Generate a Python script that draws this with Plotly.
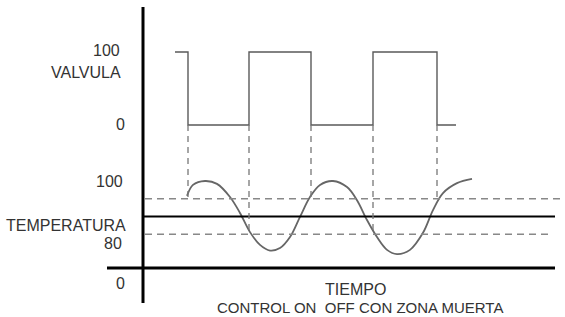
import plotly.graph_objects as go

# ---------------- data ----------------
# time (arbitrary units) and valve opening (%)
time_valve = [32, 45, 45, 106, 106, 168, 168, 230, 230, 294, 294, 313]
valve = [100, 100, 0, 0, 100, 100, 0, 0, 100, 100, 0, 0]

# temperature response
time_temp = [44, 50, 62, 74, 87, 97, 107, 117, 127, 137, 147, 157, 167, 177,
             190, 204, 214, 224, 234, 244, 254, 267, 280, 290, 300, 314, 329]
temp = [95.8, 98.9, 100.0, 99.2, 95.5, 91.0, 85.6, 82.0, 80.4, 81.1, 84.2,
        89.9, 95.5, 98.9, 100.0, 98.3, 94.6, 89.0, 84.2, 80.6, 79.4, 80.6,
        85.4, 91.8, 96.6, 99.4, 100.6]

switch_times = [45, 106, 168, 230, 294]
switch_band = [95, 85, 95, 85, 95]

setpoint = 90
band_hi = 95
band_lo = 85
temp_base = 75.5
time_end = 412

# ---------------- scales ----------------
W, H = 565, 317
x_range = [-143, 422]
yv_range = [-263.0, 171.2]
yt_range = [61.69, 150.99]


def v2p(v):
    return (v - yv_range[0]) / (yv_range[1] - yv_range[0])


def t2p(t):
    return (t - yt_range[0]) / (yt_range[1] - yt_range[0])


fig = go.Figure()
fig.add_trace(go.Scatter(x=time_valve, y=valve, mode="lines",
                         line=dict(color="#5a5a5a", width=1.4),
                         yaxis="y", hoverinfo="skip", showlegend=False))
fig.add_trace(go.Scatter(x=time_temp, y=temp, mode="lines",
                         line=dict(color="#666666", width=1.8, shape="spline", smoothing=1.0),
                         yaxis="y2", hoverinfo="skip", showlegend=False))

shapes = []
# vertical axis
shapes.append(dict(type="line", xref="x", yref="paper", x0=0, x1=0,
                   y0=1 - 303 / H, y1=1 - 7 / H, line=dict(color="black", width=3)))
# bottom baseline
shapes.append(dict(type="line", xref="x", yref="y2", x0=-36, x1=time_end,
                   y0=temp_base, y1=temp_base, line=dict(color="black", width=3)))
# setpoint
shapes.append(dict(type="line", xref="x", yref="y2", x0=0, x1=time_end,
                   y0=setpoint, y1=setpoint, line=dict(color="black", width=2)))
# dead band dashed
for b, xe in [(band_hi, 422), (band_lo, 406)]:
    shapes.append(dict(type="line", xref="x", yref="y2", x0=2, x1=xe,
                       y0=b, y1=b, line=dict(color="#888888", width=1.3, dash="7px,5px")))
# dashed verticals from valve switches to band
for ts, bb in zip(switch_times, switch_band):
    shapes.append(dict(type="line", xref="x", yref="paper", x0=ts, x1=ts,
                       y0=v2p(0), y1=t2p(bb),
                       line=dict(color="#777777", width=1.3, dash="6px,5px")))

fig.update_layout(shapes=shapes)

FONT = dict(family="Liberation Sans, Arial, sans-serif", size=16, color="#333333")


def lab(text, xr, yc, anchor="right", size=16):
    f = dict(FONT)
    f["size"] = size
    fig.add_annotation(text=text, xref="paper", yref="paper",
                       x=xr / W, y=1 - yc / H, xanchor=anchor, yanchor="middle",
                       showarrow=False, font=f)


lab("100", 122, 50)
lab("VALVULA", 123, 72)
lab("0", 127, 124)
lab("100", 125, 181)
lab("TEMPERATURA", 128, 225)
lab("80", 124, 243)
lab("0", 127, 283)
lab("TIEMPO", 355, 289, "center")
lab("CONTROL ON  OFF CON ZONA MUERTA", 360, 307, "center", 15)

fig.update_layout(
    width=W, height=H,
    margin=dict(l=0, r=0, t=0, b=0),
    paper_bgcolor="white", plot_bgcolor="white",
    xaxis=dict(range=x_range, visible=False, fixedrange=True),
    yaxis=dict(range=yv_range, visible=False, fixedrange=True),
    yaxis2=dict(range=yt_range, visible=False, overlaying="y", fixedrange=True),
    showlegend=False,
)

fig.write_html("out.html")
